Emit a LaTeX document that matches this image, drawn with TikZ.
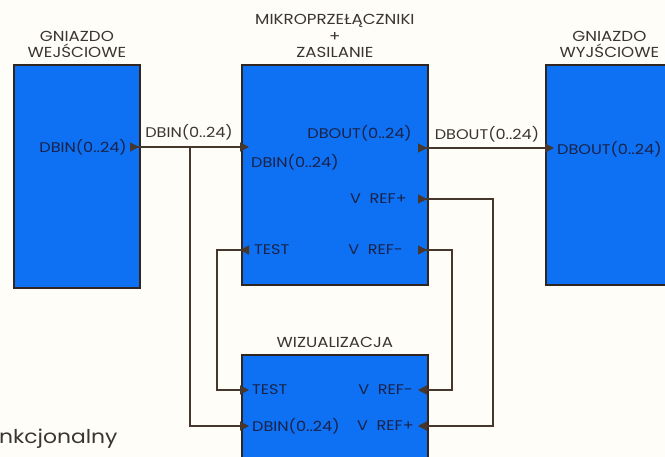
\documentclass[tikz,border=0pt]{standalone}
\usepackage{fontspec}
\setmainfont[FakeStretch=1.15]{Poppins}
\usetikzlibrary{arrows.meta,positioning}
\definecolor{boxblue}{RGB}{14,112,242}
\definecolor{wirebrown}{RGB}{70,54,44}
\definecolor{inktext}{RGB}{26,34,72}
\definecolor{graytext}{RGB}{58,52,52}
\definecolor{paper}{RGB}{255,253,247}

\begin{document}
\begin{tikzpicture}[
    x=1pt, y=-1pt,
    box/.style={rectangle, draw=wirebrown!70!black, line width=1.8pt,
                fill=boxblue, inner sep=0pt, anchor=north west},
    title/.style={align=center, inner sep=0pt, text=graytext,
                  font=\fontsize{14.5}{16}\selectfont},
    port/.style={inner sep=0pt, text=inktext, font=\fontsize{14}{16}\selectfont},
    bus/.style={inner sep=0pt, text=graytext, font=\fontsize{14}{16}\selectfont},
    wire/.style={draw=wirebrown, line width=1.3pt},
    pin/.style={{Triangle[length=9pt,width=9pt,reversed]}-{Triangle[length=9pt,width=9pt]}},
    feed/.style={-{Triangle[length=9pt,width=9pt]}}
  ]
  \fill[paper] (0,0) rectangle (665,457);
  \useasboundingbox (0,0) rectangle (665,457);

  % blocks
  \node[box, minimum width=126pt, minimum height=223pt] (in) at (13,64) {};
  \node[box, minimum width=186pt, minimum height=220pt] (mid) at (241,64) {};
  \node[box, minimum width=127pt, minimum height=220pt] (out) at (545,64) {};
  \node[box, minimum width=186pt, minimum height=120pt] (viz) at (241,354) {};

  \node[title, above=6pt of in] (inT) {GNIAZDO\\WEJŚCIOWE};
  \node[title, above=6pt of mid] (midT) {MIKROPRZEŁĄCZNIKI\\[0.5pt]+\\[0.5pt]ZASILANIE};
  \node[title, above=6pt of out] (outT) {GNIAZDO\\WYJŚCIOWE};
  \node[title, above=6pt of viz] (vizT) {WIZUALIZACJA};

  % port ends
  \coordinate (inDB) at (130,147);
  \coordinate (jDB) at (190,147);
  \coordinate (midDB) at (249,147);
  \coordinate (midDO) at (418,148);
  \coordinate (outDO) at (554,148);
  \coordinate (midVP) at (418,199);
  \coordinate (midVM) at (418,250);
  \coordinate (midTS) at (249,250);
  \coordinate (vizTS) at (249,390);
  \coordinate (vizDB) at (249,426);
  \coordinate (vizVM) at (418,390);
  \coordinate (vizVP) at (418,426);

  % connectors
  \draw[wire, pin] (inDB) -- (midDB);
  \draw[wire, feed] (jDB) |- (vizDB);
  \draw[wire, pin] (midDO) -- (outDO);
  \draw[wire, pin] (midTS) -- ++(-32,0) |- (vizTS);
  \draw[wire, pin] (midVP) -- ++(75,0) |- (vizVP);
  \draw[wire, pin] (midVM) -- ++(34,0) |- (vizVM);

  % port labels
  \node[port, anchor=east] (inDBl) at (127,147) {DBIN(0..24)};
  \node[bus] (busDB) at (189,132) {DBIN(0..24)};
  \node[port, anchor=west] (midDBl) at (251,162) {DBIN(0..24)};
  \node[port, anchor=east] (midDOl) at (412,133) {DBOUT(0..24)};
  \node[bus] (busDO) at (487,134) {DBOUT(0..24)};
  \node[port, anchor=west] (outDOl) at (557,149) {DBOUT(0..24)};
  \node[port, anchor=east] (midVPl) at (407,199) {V\ \ REF+};
  \node[port, anchor=east] (midVMl) at (403,250) {V\ \ REF-};
  \node[port, anchor=west] (midTSl) at (254,250) {TEST};
  \node[port, anchor=west] (vizTSl) at (252,390) {TEST};
  \node[port, anchor=west] (vizDBl) at (252,426) {DBIN(0..24)};
  \node[port, anchor=east] (vizVMl) at (413,390) {V\ \ REF-};
  \node[port, anchor=east] (vizVPl) at (414,426) {V\ \ REF+};

  \node[anchor=base west, inner sep=0pt, text=graytext,
        font=\fontsize{19}{22}\selectfont] (cap) at (-1,443) {nkcjonalny};
\end{tikzpicture}
\end{document}
